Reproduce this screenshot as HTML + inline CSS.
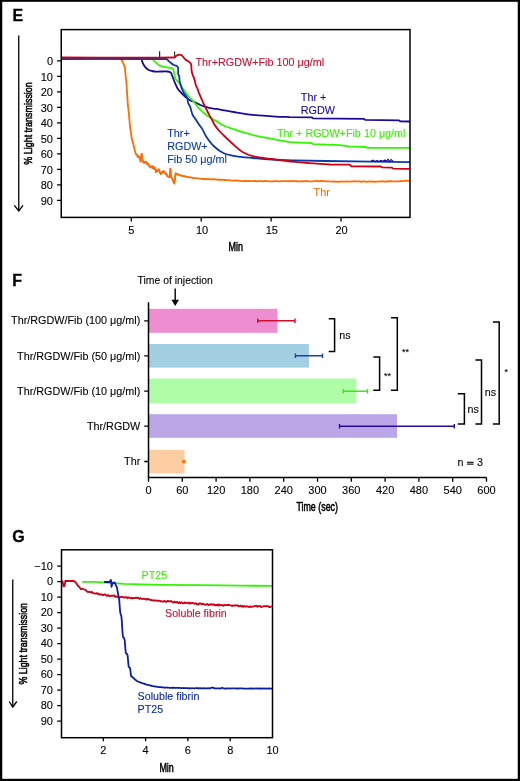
<!DOCTYPE html>
<html><head><meta charset="utf-8">
<style>
html,body{margin:0;padding:0;background:#fff;}
svg{display:block;will-change:transform;}
text{font-family:"Liberation Sans",sans-serif;stroke:#000;stroke-width:0.1px;}
text.cr{fill:#c8102e;stroke:#c8102e;}
text.cn{fill:#1a0a9a;stroke:#1a0a9a;}
text.cg{fill:#3af000;stroke:#3af000;stroke-width:0.1px;}
text.cb{fill:#0a3aaa;stroke:#0a3aaa;}
text.cb2{fill:#0a2aa8;stroke:#0a2aa8;}
text.co{fill:#ff6e00;stroke:#ff6e00;}
text.cond{stroke-width:0.55px;}
text.big{stroke-width:0.3px;}
</style></head>
<body>
<svg width="520" height="781" viewBox="0 0 520 781">
<rect x="0" y="0" width="520" height="781" fill="#fff"/>
<rect x="0" y="0" width="520" height="1.8" fill="#000"/><rect x="0" y="0" width="2.25" height="781" fill="#000"/><rect x="517.75" y="0" width="2.25" height="781" fill="#000"/><rect x="0" y="778.8" width="520" height="2.2" fill="#000"/>

<!-- ================= E ================= -->
<g id="E">
<text x="12.6" y="20.5" font-size="16" font-weight="bold" class="big">E</text>
<line x1="18.75" y1="35.4" x2="18.75" y2="210.5" stroke="#000" stroke-width="1.3"/>
<polyline points="14.3,205.3 18.75,211 23.1,205.3" fill="none" stroke="#000" stroke-width="1.3"/>
<text transform="translate(32,164.7) rotate(-90)" font-size="11.7" textLength="82.5" lengthAdjust="spacingAndGlyphs" class="cond">% Light transmission</text>

<g font-size="11" text-anchor="end">
<text x="53" y="65.1">0</text>
<text x="53" y="80.6">10</text>
<text x="53" y="96.1">20</text>
<text x="53" y="111.6">30</text>
<text x="53" y="127.1">40</text>
<text x="53" y="142.6">50</text>
<text x="53" y="158.1">60</text>
<text x="53" y="173.6">70</text>
<text x="53" y="189.1">80</text>
<text x="53" y="204.6">90</text>
</g>
<path d="M57,60.9H61.25M57,76.4H61.25M57,91.9H61.25M57,107.4H61.25M57,122.9H61.25M57,138.4H61.25M57,153.9H61.25M57,169.4H61.25M57,184.9H61.25M57,200.4H61.25" stroke="#000" stroke-width="1.3"/>
<path d="M131.3,217.4V221.6M201.2,217.4V221.6M271.1,217.4V221.6M341,217.4V221.6" stroke="#000" stroke-width="1.3"/>
<g font-size="11" text-anchor="middle">
<text x="131.3" y="233.9">5</text>
<text x="202" y="233.9">10</text>
<text x="271.8" y="233.9">15</text>
<text x="341.6" y="233.9">20</text>
</g>
<text x="228.6" y="251.2" font-size="12.5" textLength="14.4" lengthAdjust="spacingAndGlyphs" class="cond">Min</text>

<!-- injection ticks -->
<path d="M159.6,51.2V57" stroke="#1a0aa0" stroke-width="1.2"/>
<path d="M174.6,51.5V57" stroke="#333" stroke-width="1.2"/>

<g fill="none" stroke-width="1.8" stroke-linejoin="round">
<!-- orange Thr -->
<polyline stroke="#ff6e00" points="61.25,58.80 61.95,58.80 62.65,58.80 63.36,58.80 64.06,58.80 64.76,58.80 65.46,58.80 66.16,58.80 66.86,58.80 67.57,58.80 68.27,58.80 68.97,58.80 69.67,58.80 70.37,58.80 71.08,58.80 71.78,58.80 72.48,58.80 73.18,58.80 73.88,58.80 74.58,58.80 75.29,58.80 75.99,58.80 76.69,58.80 77.39,58.80 78.09,58.80 78.79,58.80 79.50,58.80 80.20,58.80 80.90,58.80 81.60,58.80 82.30,58.80 83.01,58.80 83.71,58.80 84.41,58.80 85.11,58.80 85.81,58.80 86.51,58.80 87.22,58.80 87.92,58.80 88.62,58.80 89.32,58.80 90.02,58.80 90.72,58.80 91.43,58.80 92.13,58.80 92.83,58.80 93.53,58.80 94.23,58.80 94.94,58.80 95.64,58.80 96.34,58.80 97.04,58.80 97.74,58.80 98.44,58.80 99.15,58.80 99.85,58.80 100.55,58.80 101.25,58.80 101.95,58.80 102.66,58.80 103.36,58.80 104.06,58.80 104.76,58.80 105.46,58.80 106.16,58.80 106.87,58.80 107.57,58.80 108.27,58.80 108.97,58.80 109.67,58.80 110.38,58.80 111.08,58.80 111.78,58.80 112.48,58.80 113.18,58.80 113.88,58.80 114.59,58.80 115.29,58.80 115.99,58.80 116.69,58.80 117.39,58.80 118.09,58.80 118.80,58.80 119.50,58.80 120.20,58.80 121.10,59.65 122.00,60.50 122.80,62.35 123.60,64.20 124.30,65.95 125.00,67.70 125.40,73.50 126.50,83.80 127.10,93.10 127.90,105.70 128.80,112.70 130.00,126.50 130.85,132.25 131.70,138.00 132.60,141.50 133.50,145.00 134.80,150.80 135.80,154.10 136.75,154.71 137.70,155.33 138.65,157.38 139.60,157.06 140.50,161.58 141.20,156.70 141.70,153.63 142.30,160.02 143.50,162.28 144.20,163.03 144.90,162.10 145.60,162.02 146.30,162.63 147.03,164.24 147.75,163.42 148.47,164.37 149.20,165.98 149.98,166.96 150.76,166.43 151.54,166.31 152.32,167.87 153.10,166.10 154.05,168.64 155.00,168.14 156.00,170.62 156.70,170.21 157.40,170.28 158.10,171.05 158.80,169.30 159.80,171.93 160.80,173.81 161.75,172.17 162.70,171.51 163.42,171.04 164.15,171.63 164.88,172.55 165.60,174.20 166.32,174.37 167.05,174.84 167.78,176.16 168.50,176.60 169.80,177.00 170.40,168.60 171.00,177.20 172.30,178.70 173.25,181.10 174.20,183.50 174.95,178.45 175.70,173.40 176.42,173.72 177.13,174.03 177.85,174.35 178.57,174.67 179.28,174.98 180.00,175.30 180.72,175.45 181.44,175.61 182.15,175.76 182.87,175.92 183.59,176.07 184.31,176.23 185.03,176.38 185.75,176.54 186.46,176.69 187.18,176.85 187.90,177.00 191.50,177.60 193.16,178.02 194.81,178.14 196.47,178.09 198.13,178.42 199.79,178.57 201.44,178.92 203.10,179.01 204.64,178.87 206.18,179.29 207.72,178.93 209.26,179.15 210.80,179.40 212.34,179.17 213.88,179.41 215.42,179.26 216.96,179.64 218.50,179.77 220.04,179.74 221.58,179.97 223.12,179.76 224.66,180.02 226.20,180.05 227.74,180.12 229.28,180.14 230.82,180.41 232.36,180.54 233.90,180.39 235.44,180.56 236.98,180.34 238.52,180.74 240.06,180.79 241.60,181.05 243.14,181.04 244.68,180.85 246.22,180.98 247.76,181.20 249.30,180.96 250.84,181.18 252.38,181.03 253.92,181.01 255.46,180.98 257.00,181.33 258.54,181.01 260.08,181.07 261.62,181.15 263.16,181.39 264.70,180.99 266.24,181.17 267.78,181.22 269.32,181.39 270.86,181.36 272.40,181.38 273.93,181.09 275.47,181.16 277.00,181.13 278.53,181.39 280.07,181.43 281.60,181.03 283.13,181.04 284.67,181.07 286.20,181.07 287.73,181.19 289.27,181.24 290.80,181.08 292.33,180.95 293.87,181.16 295.40,181.13 296.93,181.23 298.47,181.43 300.00,181.30 301.56,181.21 303.12,181.26 304.69,181.29 306.25,180.98 307.81,181.40 309.38,181.34 310.94,181.39 312.50,181.35 314.06,181.15 315.62,181.15 317.19,181.00 318.75,181.27 320.31,180.98 321.88,180.98 323.44,181.05 325.00,181.03 326.67,181.29 328.33,181.31 330.00,181.45 331.50,181.53 333.00,181.50 334.50,181.63 336.00,181.46 337.50,181.89 339.00,181.76 340.50,181.52 342.00,181.58 343.50,181.62 345.00,181.63 346.67,181.38 348.33,181.61 350.00,181.55 351.67,181.33 353.33,181.39 355.00,181.24 356.67,181.30 358.33,181.47 360.00,181.48 361.54,181.76 363.08,181.42 364.62,181.34 366.15,181.79 367.69,181.58 369.23,181.38 370.77,181.57 372.31,181.30 373.85,181.54 375.38,181.76 376.92,181.70 378.46,181.61 380.00,181.38 381.50,181.40 383.00,181.27 384.50,181.55 386.00,181.40 387.50,181.49 389.00,181.23 390.50,181.15 392.00,181.42 393.50,181.47 395.00,181.38 396.50,181.32 398.00,181.30 399.50,181.23 401.00,180.94 402.50,181.06 404.00,180.95 405.50,180.75 407.00,180.72 408.50,180.82 410.00,180.90"/>
<polyline stroke="#ff6e00" stroke-width="1.6" points="135.80,154.10 136.43,154.77 137.07,154.77 137.70,157.31 138.33,156.24 138.97,156.99 139.60,156.70 140.50,161.19 141.20,156.93 141.70,154.61 142.30,159.22 142.90,161.66 143.50,162.01 144.06,162.59 144.62,162.03 145.18,162.74 145.74,161.71 146.30,161.56 146.88,162.87 147.46,163.27 148.04,164.76 148.62,165.20 149.20,166.35 149.76,166.31 150.31,166.66 150.87,167.29 151.43,166.21 151.99,166.25 152.54,168.16 153.10,166.19 153.73,168.18 154.37,168.47 155.00,167.41 155.50,170.87 156.00,172.42 156.56,171.45 157.12,171.45 157.68,171.37 158.24,169.34 158.80,170.06 159.30,170.89 159.80,172.62 160.30,173.42 160.80,174.35 161.43,173.02 162.07,173.12 162.70,171.88 163.28,172.38 163.86,171.66 164.44,171.62 165.02,172.37 165.60,173.44 166.18,173.35 166.76,175.83 167.34,175.69 167.92,176.45 168.50,177.03 169.15,177.32 169.80,177.00 170.40,168.60 171.00,177.20 171.65,177.95 172.30,178.70 172.93,180.30 173.57,181.90 174.20,183.50 174.70,180.13 175.20,176.77 175.70,173.40 176.24,173.64 176.77,173.88 177.31,174.11 177.85,174.35 178.39,174.59 178.93,174.83 179.46,175.06 180.00,175.30 180.53,175.41 181.05,175.53 181.58,175.64 182.11,175.75 182.63,175.87 183.16,175.98 183.69,176.09 184.21,176.21 184.74,176.32 185.27,176.43 185.79,176.55 186.32,176.66 186.85,176.77 187.37,176.89 187.90,177.00"/>
<!-- navy Thr+RGDW -->
<path stroke="#1a0a9a" d="M61.25,59.00 C87.83,59.00 115.15,57.89 141.00,59.00 C142.23,59.05 141.93,61.37 142.50,62.50 C143.26,64.00 143.94,65.63 145.00,66.90 C146.02,68.13 147.38,69.19 148.75,70.00 C149.68,70.55 150.83,70.77 151.90,71.00 C153.33,71.30 154.79,71.55 156.25,71.60 C160.06,71.72 163.94,71.22 167.70,71.50 C168.79,71.58 170.09,71.97 170.80,72.70 C171.62,73.54 171.82,75.03 172.30,76.20 C172.82,77.46 173.29,78.74 173.80,80.00 C174.32,81.27 174.86,82.54 175.40,83.80 C175.93,85.04 176.39,86.31 177.00,87.50 C177.42,88.31 177.92,89.09 178.50,89.80 C179.56,91.09 180.73,92.30 181.90,93.50 C183.17,94.80 184.40,96.16 185.80,97.30 C187.23,98.46 188.78,99.52 190.40,100.40 C191.85,101.19 193.49,101.61 195.00,102.30 C196.83,103.14 198.55,104.21 200.40,105.00 C202.15,105.75 203.98,106.34 205.80,106.90 C207.31,107.37 208.85,107.78 210.40,108.10 C211.92,108.41 213.47,108.56 215.00,108.80 C216.67,109.06 218.34,109.31 220.00,109.60 C225.00,110.46 229.99,111.45 235.00,112.25 C240.89,113.19 246.78,114.17 252.70,114.80 C260.38,115.62 268.09,116.12 275.80,116.60 C280.53,116.89 285.27,116.93 290.00,117.10 L312.00,117.40 L313.20,118.40 L364.00,118.90 L365.20,119.90 L399.00,120.40 L400.20,121.30 L410.00,121.50"/>
<!-- green Thr+RGDW+Fib10 -->
<path stroke="#33f500" d="M61.25,59.00 C91.47,59.00 122.05,58.08 151.90,59.00 C153.30,59.04 153.94,60.97 155.00,61.90 C156.22,62.97 157.47,64.00 158.75,65.00 C159.14,65.30 159.53,65.65 160.00,65.80 C161.48,66.28 163.07,66.52 164.60,66.90 C165.64,67.16 166.65,67.49 167.70,67.70 C169.35,68.03 171.45,67.72 172.70,68.50 C173.49,68.99 173.52,70.47 173.80,71.50 C174.42,73.81 174.47,76.36 175.40,78.50 C176.04,79.96 177.50,81.01 178.50,82.30 C179.17,83.17 179.77,84.10 180.40,85.00 C181.67,86.80 182.90,88.62 184.20,90.40 C185.70,92.46 187.17,94.55 188.80,96.50 C190.27,98.25 192.01,99.77 193.50,101.50 C195.11,103.37 196.47,105.45 198.10,107.30 C199.53,108.92 201.11,110.43 202.70,111.90 C204.18,113.26 205.69,114.60 207.30,115.80 C208.76,116.90 210.33,117.86 211.90,118.80 C212.90,119.40 214.00,119.81 215.00,120.40 C217.53,121.88 219.86,123.75 222.50,125.00 C226.03,126.68 229.78,127.97 233.50,129.20 C239.84,131.30 246.22,133.38 252.70,135.00 C259.02,136.58 265.49,137.58 271.90,138.80 C277.92,139.95 283.97,141.00 290.00,142.10 L312.00,143.20 L313.20,144.10 L340.00,145.20 L348.50,146.30 L366.00,147.00 L367.20,147.80 L410.00,147.90"/>
<!-- royal blue Fib50 -->
<path stroke="#0a3aaa" d="M61.25,59.00 C96.25,59.00 131.35,58.67 166.25,59.00 C166.84,59.01 167.26,59.61 167.70,60.00 C168.51,60.71 169.16,61.62 170.00,62.30 C171.20,63.28 172.45,64.27 173.80,65.00 C174.62,65.44 175.74,65.32 176.50,65.80 C177.17,66.22 177.95,66.93 178.10,67.70 C178.48,69.60 177.84,71.82 178.10,73.80 C178.21,74.66 179.02,75.35 179.20,76.20 C179.52,77.68 179.35,79.29 179.60,80.80 C179.78,81.89 180.19,82.94 180.50,84.00 C180.96,85.60 181.30,87.25 181.90,88.80 C182.53,90.42 183.33,92.00 184.20,93.50 C185.13,95.10 186.59,96.43 187.30,98.10 C187.89,99.50 187.61,101.24 188.10,102.70 C188.64,104.31 189.76,105.72 190.40,107.30 C190.80,108.28 190.89,109.38 191.20,110.40 C191.66,111.94 191.99,113.57 192.70,115.00 C193.52,116.64 194.78,118.06 195.80,119.60 C196.81,121.13 197.77,122.69 198.80,124.20 C200.00,125.96 201.40,127.58 202.50,129.40 C203.97,131.82 204.91,134.57 206.50,136.90 C208.81,140.27 211.25,143.71 214.20,146.50 C217.02,149.17 220.33,151.63 223.80,153.30 C226.76,154.73 230.21,155.27 233.50,155.80 C239.84,156.83 246.29,157.37 252.70,158.00 C259.09,158.63 265.49,159.24 271.90,159.60 C279.59,160.04 287.30,160.20 295.00,160.40 C305.06,160.66 315.13,160.83 325.20,161.00 C340.80,161.26 356.40,161.48 372.00,161.70 C384.67,161.88 397.33,162.03 410.00,162.20"/>
<!-- red Thr+RGDW+Fib100 -->
<path stroke="#cc0014" d="M61.25,57.50 C98.97,57.50 136.88,57.99 174.40,57.50 C175.13,57.49 175.41,56.41 176.00,56.00 C176.61,55.58 177.29,55.14 178.00,55.00 C179.04,54.80 180.39,54.48 181.25,55.00 C182.86,55.98 183.88,58.15 185.40,59.50 C187.07,60.98 189.77,61.73 190.80,63.50 C191.80,65.23 191.19,67.85 191.50,70.00 C191.69,71.28 191.92,72.57 192.30,73.80 C192.95,75.90 193.94,77.90 194.60,80.00 C195.11,81.63 195.26,83.38 195.80,85.00 C196.29,86.45 197.14,87.77 197.70,89.20 C198.14,90.34 198.35,91.56 198.80,92.70 C199.62,94.76 200.61,96.76 201.50,98.80 C202.18,100.36 202.79,101.96 203.50,103.50 C204.22,105.06 205.04,106.56 205.80,108.10 C206.81,110.13 207.74,112.20 208.80,114.20 C209.77,116.03 210.91,117.77 211.90,119.60 C212.71,121.11 213.28,122.76 214.20,124.20 C215.48,126.22 216.95,128.17 218.50,130.00 C220.15,131.94 221.98,133.72 223.80,135.50 C226.98,138.59 230.17,141.68 233.50,144.60 C236.57,147.28 239.55,150.22 243.00,152.30 C245.95,154.08 249.33,155.42 252.70,156.20 C258.96,157.65 265.49,158.14 271.90,159.00 C279.59,160.04 287.28,161.08 295.00,161.90 C301.15,162.55 307.33,162.94 313.50,163.40 C319.00,163.81 324.50,164.13 330.00,164.50 L350.00,164.70 L351.20,166.30 L381.00,166.50 L382.20,167.40 L392.00,167.60 L393.20,168.60 L410.00,168.80"/>
</g>
<polyline fill="none" stroke="#1a0a9a" stroke-width="1.1" points="371,161 373,160.2 375,161.6 377,160.5 379,161.5 381,160.3 383,161.3 385,160 386.5,161.4 388,159.3 389.5,161.5 391,159.5 393,161.2"/>
<!-- box -->
<rect x="61.25" y="29.6" width="348.75" height="187.8" fill="none" stroke="#000" stroke-width="1.5"/>

<g font-size="10.8">
<text x="195.5" y="66.1" class="cr">Thr+RGDW+Fib 100 μg/ml</text>
<text x="300.8" y="101.3" class="cn">Thr +</text>
<text x="300.8" y="114.3" class="cn">RGDW</text>
<text x="276.9" y="136.7" class="cg">Thr + RGDW+Fib 10 μg/ml</text>
<text x="167.2" y="136.9" class="cb">Thr+</text>
<text x="167.2" y="150" class="cb">RGDW+</text>
<text x="167.2" y="163.1" class="cb">Fib 50 μg/ml</text>
<text x="313.6" y="196" class="co">Thr</text>
</g>
</g>

<!-- ================= F ================= -->
<g id="F">
<text x="12.3" y="285.6" font-size="16" font-weight="bold" class="big">F</text>
<text x="137.6" y="284.3" font-size="10.4">Time of injection</text>
<line x1="175.2" y1="288.5" x2="175.2" y2="301" stroke="#000" stroke-width="1.4"/>
<polygon points="171.4,299.8 179,299.8 175.2,306" fill="#000"/>

<rect x="148.5" y="308.8" width="129" height="24" fill="#ee8dd0"/>
<rect x="148.5" y="344" width="160.4" height="23.6" fill="#a2cfe1"/>
<rect x="148.5" y="378.5" width="207.8" height="24.8" fill="#b0fda8"/>
<rect x="148.5" y="414.2" width="248.5" height="23.6" fill="#bba6e8"/>
<rect x="148.5" y="449.8" width="36" height="23.6" fill="#fdcea2"/>

<!-- error bars -->
<path d="M257.8,320.8H295M257.8,318.6V323M295,318.6V323" stroke="#d0102a" stroke-width="1.4" fill="none"/>
<path d="M295.4,355.7H322.5M295.4,353.5V357.9M322.5,353.5V357.9" stroke="#1a3fb0" stroke-width="1.4" fill="none"/>
<path d="M343.3,391.3H367.5M343.3,389.1V393.5M367.5,389.1V393.5" stroke="#3ae80a" stroke-width="1.4" fill="none"/>
<path d="M339.5,426.3H454.3M339.5,424.1V428.5M454.3,424.1V428.5" stroke="#2a0a9a" stroke-width="1.4" fill="none"/>
<rect x="182.3" y="460" width="3.2" height="3.2" fill="#ff6e00"/>

<!-- axes -->
<path d="M148.5,302.3V477.6H486.5" stroke="#000" stroke-width="1.5" fill="none"/>
<path d="M144.2,320.8H148.5M144.2,355.9H148.5M144.2,391.1H148.5M144.2,426.2H148.5M144.2,461.5H148.5" stroke="#000" stroke-width="1.3"/>
<path d="M148.5,477.6V481.8M182.3,477.6V481.8M216.1,477.6V481.8M249.9,477.6V481.8M283.7,477.6V481.8M317.5,477.6V481.8M351.3,477.6V481.8M385.1,477.6V481.8M418.9,477.6V481.8M452.7,477.6V481.8M486.5,477.6V481.8" stroke="#000" stroke-width="1.3"/>
<g font-size="11" text-anchor="middle">
<text x="148.5" y="493.8">0</text>
<text x="182.3" y="493.8">60</text>
<text x="216.1" y="493.8">120</text>
<text x="249.9" y="493.8">180</text>
<text x="283.7" y="493.8">240</text>
<text x="317.5" y="493.8">300</text>
<text x="351.3" y="493.8">360</text>
<text x="385.1" y="493.8">420</text>
<text x="418.9" y="493.8">480</text>
<text x="452.7" y="493.8">540</text>
<text x="486.5" y="493.8">600</text>
</g>
<text x="296.4" y="511.4" font-size="12.5" textLength="41.6" lengthAdjust="spacingAndGlyphs" class="cond">Time (sec)</text>

<g font-size="10.8" text-anchor="end">
<text x="140.3" y="324.4">Thr/RGDW/Fib (100 μg/ml)</text>
<text x="140.3" y="359.6">Thr/RGDW/Fib (50 μg/ml)</text>
<text x="140.3" y="394.8">Thr/RGDW/Fib (10 μg/ml)</text>
<text x="140.3" y="429.9">Thr/RGDW</text>
<text x="140.3" y="465.2">Thr</text>
</g>

<rect x="467" y="461.7" width="6.6" height="1.25" fill="#222"/><rect x="467" y="463.5" width="6.6" height="1.25" fill="#222"/>
<!-- brackets -->
<g stroke="#000" stroke-width="1.5" fill="none">
<path d="M328.7,318.7H334.6V351.5H328.7"/>
<path d="M373.3,357H379.6V390.2H373.3"/>
<path d="M391,317.7H397.3V390.2H391"/>
<path d="M457.8,393.7H464.4V424.1H457.8"/>
<path d="M475.4,359.9H481.5V424.1H475.4"/>
<path d="M492.9,322.1H499.2V424.1H492.9"/>
</g>
<g font-size="10.7">
<text x="339.3" y="339">ns</text>
<text x="467.5" y="413">ns</text>
<text x="484.8" y="396">ns</text>
<text x="457.6" y="466">n</text><text x="476.9" y="466.2">3</text>
</g>
<g font-size="9">
<text x="384" y="378.5">**</text>
<text x="402" y="355">**</text>
<text x="504.5" y="375">*</text>
</g>
</g>

<!-- ================= G ================= -->
<g id="G">
<text x="12.3" y="541.5" font-size="16" font-weight="bold" class="big">G</text>
<line x1="12.75" y1="579.6" x2="12.75" y2="706.5" stroke="#000" stroke-width="1.3"/>
<polyline points="9.2,701.5 12.75,707 16.8,701.5" fill="none" stroke="#000" stroke-width="1.3"/>
<text transform="translate(27,684.5) rotate(-90)" font-size="11.7" textLength="81.5" lengthAdjust="spacingAndGlyphs" class="cond">% Light transmission</text>

<g font-size="11" text-anchor="end">
<text x="53" y="569.9">−10</text>
<text x="53" y="585.4">0</text>
<text x="53" y="600.9">10</text>
<text x="53" y="616.4">20</text>
<text x="53" y="631.9">30</text>
<text x="53" y="647.4">40</text>
<text x="53" y="662.9">50</text>
<text x="53" y="678.4">60</text>
<text x="53" y="693.9">70</text>
<text x="53" y="709.4">80</text>
<text x="53" y="724.9">90</text>
</g>
<path d="M57.2,566.1H61.5M57.2,581.6H61.5M57.2,597.1H61.5M57.2,612.6H61.5M57.2,628.1H61.5M57.2,643.6H61.5M57.2,659.1H61.5M57.2,674.6H61.5M57.2,690.1H61.5M57.2,705.6H61.5M57.2,721.1H61.5" stroke="#000" stroke-width="1.3"/>
<path d="M103.3,737.7V741.3M145.6,737.7V741.3M187.9,737.7V741.3M230.2,737.7V741.3" stroke="#000" stroke-width="1.3"/>
<g font-size="11" text-anchor="middle">
<text x="103.3" y="754.4">2</text>
<text x="145.6" y="754.4">4</text>
<text x="187.9" y="754.4">6</text>
<text x="230.2" y="754.4">8</text>
<text x="272.5" y="754.4">10</text>
</g>
<text x="159.4" y="771.8" font-size="12.5" textLength="14.4" lengthAdjust="spacingAndGlyphs" class="cond">Min</text>

<g fill="none" stroke-width="1.8" stroke-linejoin="round">
<polyline stroke="#33f500" points="82.20,581.80 95.00,581.80 123.80,583.90 160.00,584.80 200.00,585.20 240.00,585.60 272.00,585.90"/>
<polyline stroke="#cc0018" points="61.80,583.00 62.50,581.20 63.50,586.40 64.60,586.00 65.30,581.00 73.80,580.90 74.90,581.95 76.00,582.66 77.00,584.47 78.00,586.04 78.80,586.13 79.60,587.61 80.40,588.48 81.20,589.24 82.10,588.80 83.00,588.98 83.90,589.37 84.80,589.72 85.70,590.11 86.60,591.09 87.50,591.86 88.35,591.99 89.20,591.69 90.05,592.14 90.90,592.56 91.75,591.77 92.60,592.78 93.45,593.34 94.30,593.38 95.15,593.54 96.00,593.37 96.81,593.10 97.62,594.10 98.42,593.60 99.23,594.41 100.04,594.79 100.85,594.13 101.65,594.29 102.46,595.19 103.27,595.03 104.08,594.40 104.88,594.49 105.69,594.67 106.50,595.87 107.36,595.81 108.21,594.96 109.07,595.99 109.92,596.28 110.78,595.91 111.63,595.56 112.49,595.91 113.34,595.41 114.20,595.32 115.05,596.80 115.89,596.48 116.74,596.45 117.58,597.15 118.43,596.59 119.27,597.34 120.12,597.41 120.96,596.69 121.81,596.88 122.65,597.07 123.50,597.14 124.33,597.65 125.17,597.23 126.00,597.49 126.83,597.12 127.67,598.24 128.50,597.50 129.33,597.67 130.17,597.88 131.00,598.37 131.83,597.72 132.67,598.45 133.50,597.90 134.35,598.03 135.21,598.10 136.06,597.48 136.92,598.15 137.77,597.88 138.62,597.71 139.48,598.91 140.33,598.12 141.18,598.62 142.04,599.06 142.89,598.91 143.75,598.67 144.60,599.03 145.43,599.18 146.26,599.61 147.09,598.77 147.91,599.51 148.74,599.18 149.57,599.33 150.40,600.13 151.23,599.87 152.06,600.05 152.89,600.44 153.71,600.76 154.54,600.21 155.37,600.55 156.20,600.51 157.00,600.58 157.80,600.90 158.60,600.63 159.40,600.81 160.20,600.80 161.00,601.52 161.80,601.25 162.60,601.56 163.40,601.72 164.20,600.83 165.00,601.32 165.80,601.92 166.62,601.85 167.43,600.93 168.25,600.98 169.06,601.50 169.88,601.05 170.69,601.36 171.50,601.19 172.32,602.10 173.13,602.33 173.95,602.56 174.77,601.59 175.58,602.44 176.40,602.43 177.21,601.78 178.03,602.89 178.84,603.07 179.66,602.10 180.47,603.19 181.28,602.49 182.10,602.68 182.92,603.45 183.74,603.28 184.56,602.40 185.37,602.84 186.19,603.02 187.01,602.83 187.83,602.69 188.65,602.92 189.47,603.54 190.29,602.62 191.10,603.43 191.92,603.33 192.74,602.80 193.56,603.29 194.38,603.76 195.20,603.67 196.01,603.10 196.83,604.45 197.65,604.23 198.47,604.55 199.29,603.39 200.11,603.68 200.93,603.42 201.74,604.51 202.56,603.86 203.38,603.72 204.20,604.19 205.02,604.92 205.84,604.83 206.67,604.08 207.49,603.97 208.31,605.09 209.13,604.64 209.96,604.87 210.78,604.05 211.60,604.05 212.42,604.97 213.24,604.64 214.07,604.19 214.89,605.44 215.71,605.06 216.53,605.33 217.36,604.37 218.18,605.49 219.00,604.43 219.82,605.58 220.64,605.05 221.47,604.93 222.29,605.27 223.11,605.83 223.93,604.95 224.76,604.80 225.58,605.40 226.40,605.03 227.22,604.89 228.04,605.01 228.86,604.89 229.67,605.15 230.49,605.34 231.31,605.37 232.13,606.05 232.95,605.43 233.77,605.77 234.59,605.36 235.40,605.63 236.22,605.21 237.04,605.58 237.86,605.29 238.68,606.34 239.50,606.12 240.31,605.66 241.13,606.10 241.95,606.78 242.77,605.66 243.59,606.70 244.41,606.20 245.23,606.33 246.04,606.85 246.86,606.27 247.68,606.47 248.50,606.76 249.33,607.18 250.16,606.28 250.99,606.97 251.81,606.79 252.64,606.69 253.47,606.37 254.30,606.29 255.13,605.88 255.96,605.98 256.79,605.90 257.61,606.84 258.44,606.16 259.27,606.03 260.10,605.92 260.93,606.98 261.76,607.02 262.59,606.74 263.41,606.19 264.24,606.14 265.07,606.21 265.90,606.44 266.73,606.02 267.56,606.42 268.39,606.17 269.21,607.15 270.04,607.16 270.87,606.57 271.70,606.50"/>
<polyline stroke="#0a1ea5" points="104.10,582.00 109.40,582.00 110.40,580.50 110.90,579.90 111.30,583.00 111.50,586.80 112.20,584.00 113.20,582.60 114.20,582.50 115.20,583.50 115.70,584.90 116.60,586.50 117.10,588.30 117.90,593.10 118.60,596.50 119.20,599.20 119.60,605.00 120.10,611.50 120.60,614.00 121.30,616.00 121.80,620.70 122.20,628.00 122.90,636.90 124.00,638.00 124.70,640.30 125.30,648.00 125.80,653.00 127.00,654.00 127.60,655.30 128.20,662.00 128.70,666.80 130.00,668.00 130.40,670.30 131.00,676.00 132.50,677.30 133.90,678.30 135.50,680.00 136.40,680.60 137.30,681.20 138.40,681.70 139.50,682.20 140.75,682.70 142.00,683.20 143.00,683.40 144.00,683.60 145.30,684.15 146.60,684.70 147.80,684.95 149.00,685.20 150.10,685.50 151.20,685.65 152.20,686.06 153.20,686.22 154.20,686.33 155.20,686.51 156.20,686.72 157.20,686.72 158.20,687.10 159.20,687.13 160.15,687.12 161.09,687.22 162.04,687.41 162.98,687.30 163.93,687.50 164.88,687.62 165.82,687.52 166.77,687.53 167.72,687.61 168.66,687.72 169.61,687.79 170.55,687.79 171.50,687.84 172.43,687.69 173.35,687.73 174.28,687.79 175.20,687.95 176.12,687.84 177.05,687.94 177.97,687.79 178.90,687.83 179.82,687.91 180.75,688.05 181.68,688.08 182.60,688.09 183.53,688.00 184.45,688.08 185.38,688.09 186.30,688.11 187.22,688.03 188.15,688.28 189.07,688.09 190.00,688.34 190.91,688.34 191.82,688.06 192.73,688.20 193.64,688.31 194.55,688.36 195.45,688.21 196.36,688.16 197.27,688.15 198.18,688.37 199.09,688.16 200.00,688.27 200.91,688.15 201.82,688.27 202.73,688.40 203.64,688.16 204.55,688.37 205.45,688.28 206.36,688.40 207.27,688.35 208.18,688.21 209.09,688.41 210.00,688.30 211.00,687.92 212.00,687.68 213.00,687.60 214.50,688.39 215.43,688.34 216.36,688.29 217.29,688.35 218.21,688.34 219.14,688.50 220.07,688.25 221.00,688.48 222.20,687.70 223.50,688.29 224.42,688.53 225.33,688.47 226.25,688.53 227.16,688.35 228.08,688.38 228.99,688.39 229.91,688.58 230.82,688.46 231.74,688.39 232.65,688.42 233.57,688.37 234.48,688.31 235.40,688.33 236.31,688.55 237.23,688.39 238.14,688.59 239.06,688.39 239.97,688.40 240.89,688.47 241.80,688.38 242.72,688.44 243.63,688.62 244.55,688.60 245.46,688.58 246.38,688.53 247.29,688.62 248.21,688.63 249.12,688.52 250.04,688.58 250.95,688.38 251.87,688.59 252.78,688.51 253.70,688.60 254.61,688.57 255.53,688.47 256.44,688.40 257.36,688.67 258.27,688.43 259.19,688.54 260.10,688.50 261.02,688.49 261.93,688.63 262.85,688.71 263.76,688.49 264.68,688.62 265.59,688.51 266.51,688.59 267.42,688.55 268.34,688.49 269.25,688.49 270.17,688.50 271.08,688.72 272.00,688.60"/>
</g>
<rect x="61.5" y="549.8" width="211" height="187.9" fill="none" stroke="#000" stroke-width="1.5"/>

<g font-size="10.7">
<text x="141.6" y="578.6" class="cg">PT25</text>
<text x="165" y="617.1" class="cr">Soluble fibrin</text>
<text x="137.6" y="700.3" class="cb2">Soluble fibrin</text>
<text x="137.6" y="712.7" class="cb2">PT25</text>
</g>
</g>
</svg>
</body></html>
